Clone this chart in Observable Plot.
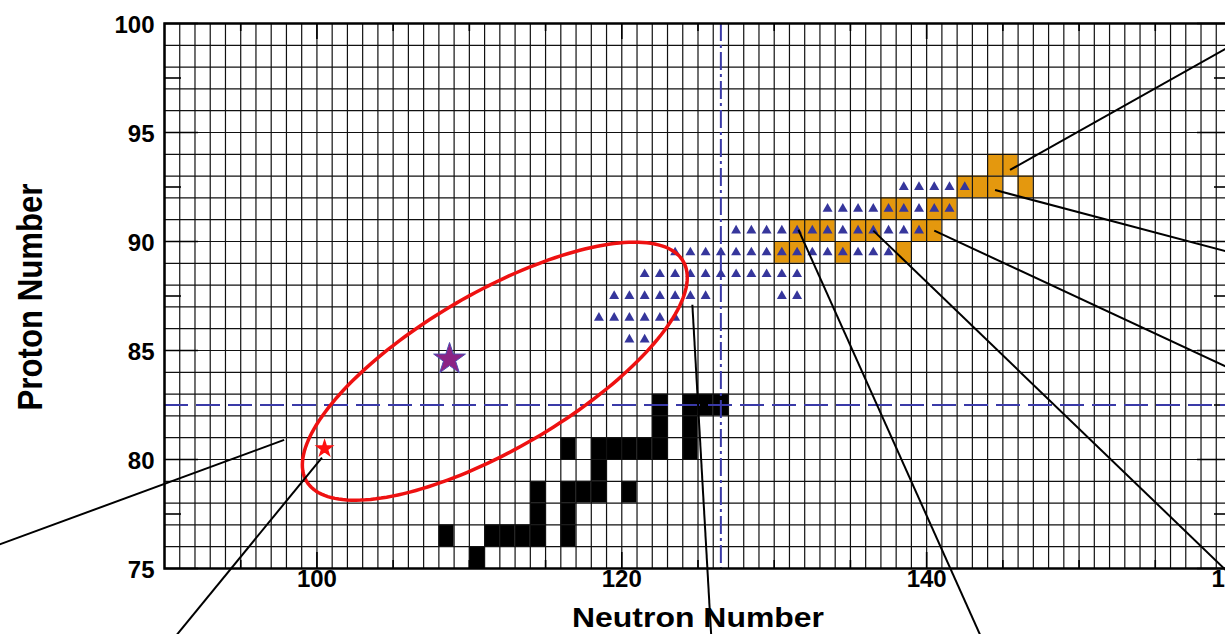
<!DOCTYPE html>
<html><head><meta charset="utf-8">
<script src="https://cdn.jsdelivr.net/npm/d3@7"></script>
<script src="https://cdn.jsdelivr.net/npm/@observablehq/plot@0.6"></script>
<style>
html,body{margin:0;padding:0;background:#fff;overflow:hidden;width:1225px;height:634px}
#chart svg{max-width:none !important;display:block}
</style></head><body><div id="chart"></div>
<script>
// ---- data ----
const neutronTicksMajor = [100, 120, 140, 160];
const neutronTicksMinor = [95, 105, 110, 115, 125, 130, 135, 145, 150, 155];
const protonTicksMajor = [75, 80, 85, 90, 95, 100];
const protonTicksMinor = [77.5, 82.5, 87.5, 92.5, 97.5];
const neutronLabels = [100, 120, 140, 160];
const protonLabels = [75, 80, 85, 90, 95, 100];
const magicN = [126.5];
const magicZ = [82.5];

// black (stable) nuclides [N, Z]
const stableCells = [[110,75],[108,76],[111,76],[112,76],[113,76],[114,76],[116,76],
  [114,77],[116,77],[114,78],[116,78],[117,78],[118,78],[120,78],[118,79],
  [116,80],[118,80],[119,80],[120,80],[121,80],[122,80],[124,80],
  [122,81],[124,81],[122,82],[124,82],[125,82],[126,82]];

// orange nuclides [N, Z]
const orangeCells = [[130,89],[131,89],[134,89],[138,89],
  [131,90],[132,90],[133,90],[135,90],[136,90],[139,90],[140,90],
  [137,91],[138,91],[140,91],[141,91],
  [142,92],[143,92],[144,92],[146,92],
  [144,93],[145,93]];

// triangle nuclides [N, Z]
const triangleCells = [
  [120,85],[121,85],
  [118,86],[119,86],[120,86],[121,86],[122,86],[123,86],
  [119,87],[120,87],[121,87],[122,87],[123,87],[124,87],[125,87],[130,87],[131,87],
  [121,88],[122,88],[123,88],[124,88],[125,88],[126,88],[127,88],[128,88],[129,88],[130,88],[131,88],
  [123,89],[124,89],[125,89],[126,89],[127,89],[128,89],[129,89],[130,89],[131,89],[132,89],[133,89],[134,89],[135,89],[136,89],[137,89],
  [127,90],[128,90],[129,90],[130,90],[131,90],[132,90],[133,90],[134,90],[135,90],[136,90],[137,90],[138,90],[139,90],
  [133,91],[134,91],[135,91],[136,91],[137,91],[138,91],[139,91],[140,91],[141,91],
  [138,92],[139,92],[140,92],[141,92],[142,92]];

const bigStar = [[108.7, 84.6]];
const smallStar = [[100.5, 80.5]];

// ellipse: center and two conjugate semi-axis vectors (data units)
const ellipseCenter = [111.67, 84.05];
const ellipseU = [12.36, 5.04];
const ellipseV = [-2.58, 3.10];

// annotation lines
const annoStartN = [97.85, 100.33, 124.63, 131.59, 136.5, 140.5, 144.49, 145.47];
const annoStartZ = [80.9, 80.09, 87.1, 90.54, 90.5, 90.5, 92.36, 93.28];
const annoEndN   = [78.0, 90.27, 125.9, 143.8, 161, 161, 161, 161];
const annoEndZ   = [75.8, 71.5, 71.5, 71.5, 74.0, 83.82, 89.3, 99.39];

// ---- layout ----
const W = 1252, H = 634, mL = 164, mR = 21, mT = 23, mB = 66;
const plotH = H - mT - mB, plotW = W - mL - mR;
const gridN = d3.range(90, 161);
const gridZ = d3.range(75, 101);

const ellipsePts = d3.range(0, 361, 2).map(a => {
  const t = a * Math.PI / 180;
  return [ellipseCenter[0] + ellipseU[0]*Math.cos(t) + ellipseV[0]*Math.sin(t),
          ellipseCenter[1] + ellipseU[1]*Math.cos(t) + ellipseV[1]*Math.sin(t)];
});

const FONT = "Liberation Sans, Arial, Helvetica, sans-serif";
const ORANGE = "#e4980e", TRI = "#36369c", MAGIC = "#3a3aa8";

const chart = Plot.plot({
  width: W, height: H,
  marginLeft: mL, marginRight: mR, marginTop: mT, marginBottom: mB,
  style: {fontFamily: FONT, background: "white", overflow: "hidden"},
  x: {domain: [90, 160], axis: null},
  y: {domain: [75, 100], axis: null},
  marks: [
    Plot.rect(orangeCells, {x1: d => d[0], x2: d => d[0] + 1, y1: d => d[1], y2: d => d[1] + 1, fill: ORANGE}),
    Plot.rect(stableCells, {x1: d => d[0], x2: d => d[0] + 1, y1: d => d[1], y2: d => d[1] + 1, fill: "black"}),
    Plot.ruleX(gridN, {x: d => d, stroke: "#111", strokeWidth: 1.2}),
    Plot.ruleY(gridZ, {y: d => d, stroke: "#111", strokeWidth: 1.2}),
    // ticks (inward)
    Plot.tickX(neutronTicksMajor, {x: d => d, insetBottom: plotH - 16, stroke: "black", strokeWidth: 1.6}),
    Plot.tickX(neutronTicksMinor, {x: d => d, insetBottom: plotH - 8, stroke: "black", strokeWidth: 1.6}),
    Plot.tickX(neutronTicksMajor, {x: d => d, insetTop: plotH - 16, stroke: "black", strokeWidth: 1.6}),
    Plot.tickX(neutronTicksMinor, {x: d => d, insetTop: plotH - 8, stroke: "black", strokeWidth: 1.6}),
    Plot.tickY(protonTicksMajor, {y: d => d, insetRight: plotW - 34, stroke: "black", strokeWidth: 1.6}),
    Plot.tickY(protonTicksMinor, {y: d => d, insetRight: plotW - 17, stroke: "black", strokeWidth: 1.6}),
    Plot.tickY(protonTicksMajor, {y: d => d, insetLeft: plotW - 34, stroke: "black", strokeWidth: 1.6}),
    Plot.tickY(protonTicksMinor, {y: d => d, insetLeft: plotW - 17, stroke: "black", strokeWidth: 1.6}),
    // magic number lines
    Plot.ruleY(magicZ, {y: d => d, stroke: MAGIC, strokeWidth: 2, strokeDasharray: "24,8"}),
    Plot.ruleX(magicN, {x: d => d, stroke: MAGIC, strokeWidth: 2, strokeDasharray: "18,4,3,4"}),
    Plot.frame({stroke: "black", strokeWidth: 2.5}),
    Plot.dot(triangleCells, {x: d => d[0] + 0.5, y: d => d[1] + 0.5, symbol: "triangle", r: 3.7, fill: TRI, stroke: "none"}),
    Plot.line(ellipsePts, {x: d => d[0], y: d => d[1], stroke: "#ee1111", strokeWidth: 3.5}),
    // labels
    Plot.text(neutronLabels, {x: d => d, frameAnchor: "bottom", dy: 18.5, fontSize: 24, fontWeight: "bold", fill: "black", text: d => String(d)}),
    Plot.text(protonLabels, {y: d => d, frameAnchor: "left", dx: -10, dy: 2, textAnchor: "end", fontSize: 24, fontWeight: "bold", fill: "black", text: d => String(d)}),
    Plot.text(["Neutron Number"], {frameAnchor: "bottom", dy: 58, fontSize: 27, fontWeight: "bold", fill: "black"}),
    Plot.text(["Proton Number"], {frameAnchor: "left", dx: -133.5, dy: 114.5, rotate: -90, textAnchor: "start", fontSize: 35, fontWeight: "bold", fill: "black"}),
    // annotation lines
    Plot.link(d3.range(annoStartN.length), {x1: i => annoStartN[i], y1: i => annoStartZ[i], x2: i => annoEndN[i], y2: i => annoEndZ[i], stroke: "black", strokeWidth: 2}),
    Plot.dot(bigStar, {x: d => d[0], y: d => d[1], symbol: "star", r: 10, fill: "#8c2384", stroke: "#4c4cb0", strokeWidth: 1}),
    Plot.dot(smallStar, {x: d => d[0], y: d => d[1], symbol: "star", r: 4.8, fill: "#ff1111", stroke: "#ff1111", strokeWidth: 1.5})
  ]
});
document.getElementById("chart").appendChild(chart);
chart.querySelectorAll("text").forEach(t => {
  if (t.textContent === "Neutron Number") { t.setAttribute("textLength", 252); t.setAttribute("lengthAdjust", "spacingAndGlyphs"); }
  if (t.textContent === "Proton Number") { t.setAttribute("textLength", 227); t.setAttribute("lengthAdjust", "spacingAndGlyphs"); }
});
</script></body></html>
